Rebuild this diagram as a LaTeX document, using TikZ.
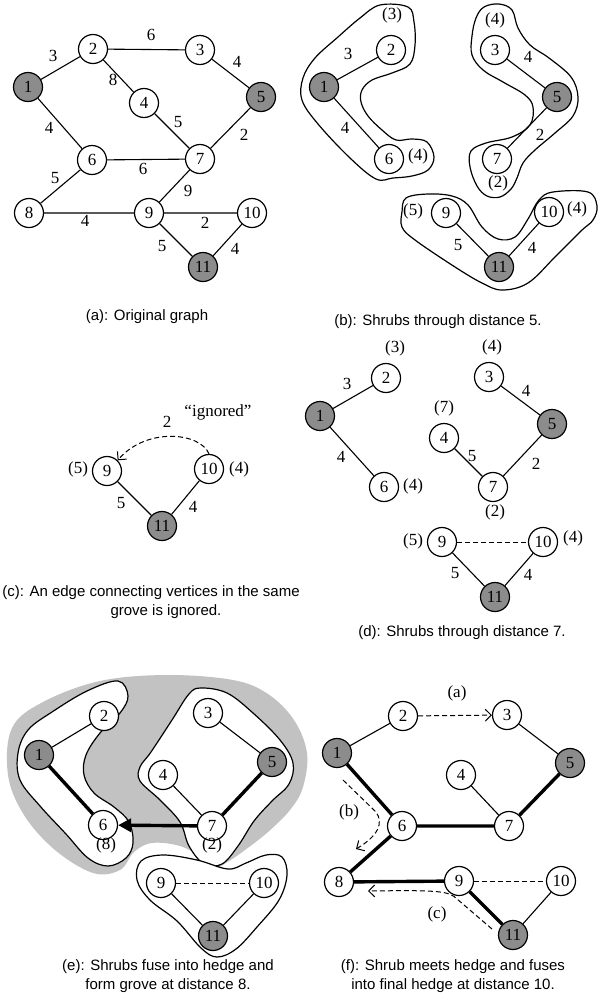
\documentclass[tikz,border=0pt]{standalone}
\usepackage{fontspec}
\newfontfamily\numfont{Liberation Serif}
\newfontfamily\capfont{Liberation Sans}
\usetikzlibrary{arrows.meta}
\definecolor{vgrey}{HTML}{8C8C8C}
\definecolor{grovegrey}{HTML}{C2C2C2}
\tikzset{
  vtx/.style={circle, draw, line width=1.2pt, minimum size=29pt, inner sep=0pt,
            fill=white, font=\numfont\fontsize{17}{19}\selectfont},
  vsrc/.style={vtx, fill=vgrey},
  lab/.style={inner sep=0pt, font=\numfont\fontsize{17}{19}\selectfont},
  captext/.style={inner sep=0pt, align=center, font=\capfont\fontsize{15}{18.5}\selectfont},
  thinedge/.style={line width=1.1pt},
  heavy/.style={line width=3.4pt},
  dsh/.style={line width=1pt, dash pattern=on 5pt off 3pt},
  barb/.style={-{Straight Barb[length=6pt,width=12pt,line width=1pt]}},
  blob/.style={draw, line width=1.2pt, fill=white},
}
\begin{document}
\begin{tikzpicture}[x=1pt,y=-1pt]
\useasboundingbox (0,0) rectangle (604,1002);

% ---------------- (a) original graph ----------------
\node[vsrc] (a1)  at (28,87)   {1};
\node[vtx]  (a2)  at (93,49)   {2};
\node[vtx]  (a3)  at (200,50)  {3};
\node[vtx]  (a4)  at (144,103) {4};
\node[vsrc] (a5)  at (261,97)  {5};
\node[vtx]  (a6)  at (92,160)  {6};
\node[vtx]  (a7)  at (200,159) {7};
\node[vtx]  (a8)  at (29,213)  {8};
\node[vtx]  (a9)  at (149,213) {9};
\node[vtx]  (a10) at (252,213) {10};
\node[vsrc] (a11) at (203,267) {11};
\draw[thinedge] (a1)--(a2) (a2)--(a3) (a2)--(a4) (a3)--(a5) (a1)--(a6) (a4)--(a7)
         (a5)--(a7) (a6)--(a7) (a6)--(a8) (a7)--(a9) (a8)--(a9) (a9)--(a10)
         (a9)--(a11) (a10)--(a11);
\node[lab] at (53,56)   {3};
\node[lab] at (151,35)  {6};
\node[lab] at (113,80)  {8};
\node[lab] at (237,62)  {4};
\node[lab] at (49,128)  {4};
\node[lab] at (178,122) {5};
\node[lab] at (244,135) {2};
\node[lab] at (143,169) {6};
\node[lab] at (55,178)  {5};
\node[lab] at (188,191) {9};
\node[lab] at (85,221)  {4};
\node[lab] at (205,223) {2};
\node[lab] at (162,246) {5};
\node[lab] at (235,249) {4};
\node[captext] at (147,317) {(a): Original graph};

% ---------------- (b) shrubs through distance 5 ----------------
\draw[blob] plot[smooth cycle, tension=0.6] coordinates {
  (380,5) (408,7) (414,22) (415,45) (410,64) (392,73) (372,80) (362,90)
  (361,102) (368,116) (382,130) (396,140) (412,139) (427,142) (434,157)
  (428,170) (412,176) (393,178) (376,179) (350,158) (318,124) (302,100)
  (303,78) (315,58) (338,37) (360,18)};
\draw[blob] plot[smooth cycle, tension=0.6] coordinates {
  (476,18) (484,7) (499,4) (512,10) (518,28) (530,45) (549,58) (571,77)
  (578,97) (573,116) (555,133) (535,150) (523,163) (517,178) (511,189)
  (500,197) (487,196) (477,186) (470,167) (471,151) (486,143) (512,137)
  (530,125) (533,107) (525,95) (503,82) (483,70) (472,55) (472,36)};
\draw[blob] plot[smooth cycle, tension=0.6] coordinates {
  (402,212) (406,198) (428,194) (452,196) (468,205) (482,227) (498,239)
  (515,237) (528,219) (539,200) (553,192) (588,192) (597,206) (593,220)
  (581,231) (555,257) (528,283) (502,290) (482,283) (455,267) (415,240)
  (402,227)};
\node[vsrc] (b1)  at (324,87)  {1};
\node[vtx]  (b2)  at (391,50)  {2};
\node[vtx]  (b6)  at (389,159) {6};
\node[vtx]  (b3)  at (495,50)  {3};
\node[vsrc] (b5)  at (557,97)  {5};
\node[vtx]  (b7)  at (497,159) {7};
\node[vtx]  (b9)  at (446,213) {9};
\node[vtx]  (b10) at (549,212) {10};
\node[vsrc] (b11) at (499,267) {11};
\draw[thinedge] (b1)--(b2) (b1)--(b6) (b3)--(b5) (b5)--(b7) (b9)--(b11) (b10)--(b11);
\node[lab] at (392,15)  {(3)};
\node[lab] at (348,54)  {3};
\node[lab] at (345,128) {4};
\node[lab] at (418,156) {(4)};
\node[lab] at (495,20)  {(4)};
\node[lab] at (528,57)  {4};
\node[lab] at (540,135) {2};
\node[lab] at (498,183) {(2)};
\node[lab] at (413,211) {(5)};
\node[lab] at (577,209) {(4)};
\node[lab] at (458,245) {5};
\node[lab] at (532,248) {4};
\node[captext] at (438,322) {(b): Shrubs through distance 5.};

% ---------------- (c) ignored edge inside a grove ----------------
\node[vtx]  (c9)  at (107,471) {9};
\node[vtx]  (c10) at (209,469) {10};
\node[vsrc] (c11) at (162,526) {11};
\draw[thinedge] (c9)--(c11) (c10)--(c11);
\draw[dsh, barb] (c10.north) .. controls (200,432) and (146,427) .. (c9.north east);
\node[lab] at (78,469)  {(5)};
\node[lab] at (239,469) {(4)};
\node[lab] at (121,503) {5};
\node[lab] at (193,507) {4};
\node[lab] at (167,422) {2};
\node[lab] at (218,412) {“ignored”};
\node[captext] at (151,593) {(c): An edge connecting vertices in the same};
\node[captext] at (166,612) {grove is ignored.};

% ---------------- (d) shrubs through distance 7 ----------------
\node[vsrc] (d1)  at (320,416) {1};
\node[vtx]  (d2)  at (386,378) {2};
\node[vtx]  (d6)  at (384,487) {6};
\node[vtx]  (d3)  at (489,377) {3};
\node[vsrc] (d5)  at (552,424) {5};
\node[vtx]  (d4)  at (444,438) {4};
\node[vtx]  (d7)  at (493,487) {7};
\node[vtx]  (d9)  at (442,542) {9};
\node[vtx]  (d10) at (543,542) {10};
\node[vsrc] (d11) at (495,597) {11};
\draw[thinedge] (d1)--(d2) (d1)--(d6) (d3)--(d5) (d4)--(d7) (d7)--(d5)
         (d9)--(d11) (d10)--(d11);
\draw[dsh] (d9)--(d10);
\node[lab] at (395,348) {(3)};
\node[lab] at (492,347) {(4)};
\node[lab] at (347,384) {3};
\node[lab] at (341,457) {4};
\node[lab] at (413,486) {(4)};
\node[lab] at (444,408) {(7)};
\node[lab] at (472,456) {5};
\node[lab] at (536,464) {2};
\node[lab] at (526,391) {4};
\node[lab] at (495,512) {(2)};
\node[lab] at (413,541) {(5)};
\node[lab] at (573,538) {(4)};
\node[lab] at (455,573) {5};
\node[lab] at (528,575) {4};
\node[captext] at (462,633) {(d): Shrubs through distance 7.};

% ---------------- (e) shrubs fuse into a hedge, forming a grove ----------------
\fill[grovegrey] plot[smooth cycle, tension=0.6] coordinates {
  (12,728) (43,702) (100,681) (167,675) (233,680) (268,694) (294,720)
  (307,753) (303,787) (290,810) (268,832) (245,850) (226,863) (213,869)
  (202,858) (180,846) (152,843) (134,852) (120,870) (93,873) (55,850)
  (24,815) (8,775)};
\draw[blob] plot[smooth cycle, tension=0.6] coordinates {
  (118,681) (128,696) (120,713) (100,733) (86,755) (84,775) (94,793)
  (114,807) (129,822) (133,843) (126,858) (108,866) (88,858) (66,834)
  (40,806) (20,780) (18,753) (28,730) (52,712) (87,691)};
\draw[blob] plot[smooth cycle, tension=0.6] coordinates {
  (201,688) (227,693) (253,713) (280,740) (293,763) (289,784) (272,801)
  (254,821) (238,846) (222,864) (204,864) (189,846) (180,822) (160,800)
  (140,781) (140,767) (151,752) (172,720) (189,694)};
\draw[blob] plot[smooth cycle, tension=0.6] coordinates {
  (141,861) (163,855) (197,860) (228,869) (246,863) (266,855) (282,857)
  (287,875) (279,900) (257,927) (236,949) (217,957) (201,948) (177,921)
  (150,900) (137,880)};
\node[vsrc] (e1)  at (39,755)  {1};
\node[vtx]  (e2)  at (104,716) {2};
\node[vtx]  (e6)  at (103,825) {6};
\node[vtx]  (e3)  at (208,713) {3};
\node[vsrc] (e5)  at (272,762) {5};
\node[vtx]  (e4)  at (163,775) {4};
\node[vtx]  (e7)  at (212,826) {7};
\node[vtx]  (e9)  at (161,883) {9};
\node[vtx]  (e10) at (264,883) {10};
\node[vsrc] (e11) at (213,936) {11};
\draw[thinedge] (e1)--(e2) (e3)--(e5) (e4)--(e7) (e9)--(e11) (e10)--(e11);
\draw[heavy] (e1)--(e6) (e7)--(e5);
\draw[heavy, -{Triangle[length=13pt,width=13pt]}] (e7)--(e6);
\draw[dsh] (e9)--(e10);
\node[lab] at (106,845) {(8)};
\node[lab] at (212,845) {(2)};
\node[captext] at (168,976) {(e): Shrubs fuse into hedge and\\form grove at distance 8.};

% ---------------- (f) final hedge at distance 10 ----------------
\node[vsrc] (f1)  at (337,753) {1};
\node[vtx]  (f2)  at (403,716) {2};
\node[vtx]  (f3)  at (507,715) {3};
\node[vsrc] (f5)  at (570,763) {5};
\node[vtx]  (f4)  at (461,775) {4};
\node[vtx]  (f6)  at (402,826) {6};
\node[vtx]  (f7)  at (509,826) {7};
\node[vtx]  (f8)  at (339,882) {8};
\node[vtx]  (f9)  at (459,881) {9};
\node[vtx]  (f10) at (561,881) {10};
\node[vsrc] (f11) at (513,935) {11};
\draw[thinedge] (f1)--(f2) (f3)--(f5) (f4)--(f7) (f10)--(f11);
\draw[heavy] (f1)--(f6) (f6)--(f7) (f7)--(f5) (f6)--(f8) (f8)--(f9) (f9)--(f11);
\draw[dsh] (f9)--(f10);
\draw[dsh, barb] (f2)--(f3);
\coordinate (fbs) at (343,780);
\coordinate (fbe) at (356,849);
\draw[dsh, barb] (fbs) -- (376,812) .. controls (384,823) and (378,836) .. (fbe);
\coordinate (fcs) at (492,929);
\coordinate (fce) at (368,891);
\draw[dsh, barb] (fcs) -- (457,899) .. controls (449,891) and (440,890) .. (fce);
\node[lab] at (457,693) {(a)};
\node[lab] at (349,812) {(b)};
\node[lab] at (437,914) {(c)};
\node[captext] at (453,976) {(f): Shrub meets hedge and fuses\\into final hedge at distance 10.};
\end{tikzpicture}
\end{document}
